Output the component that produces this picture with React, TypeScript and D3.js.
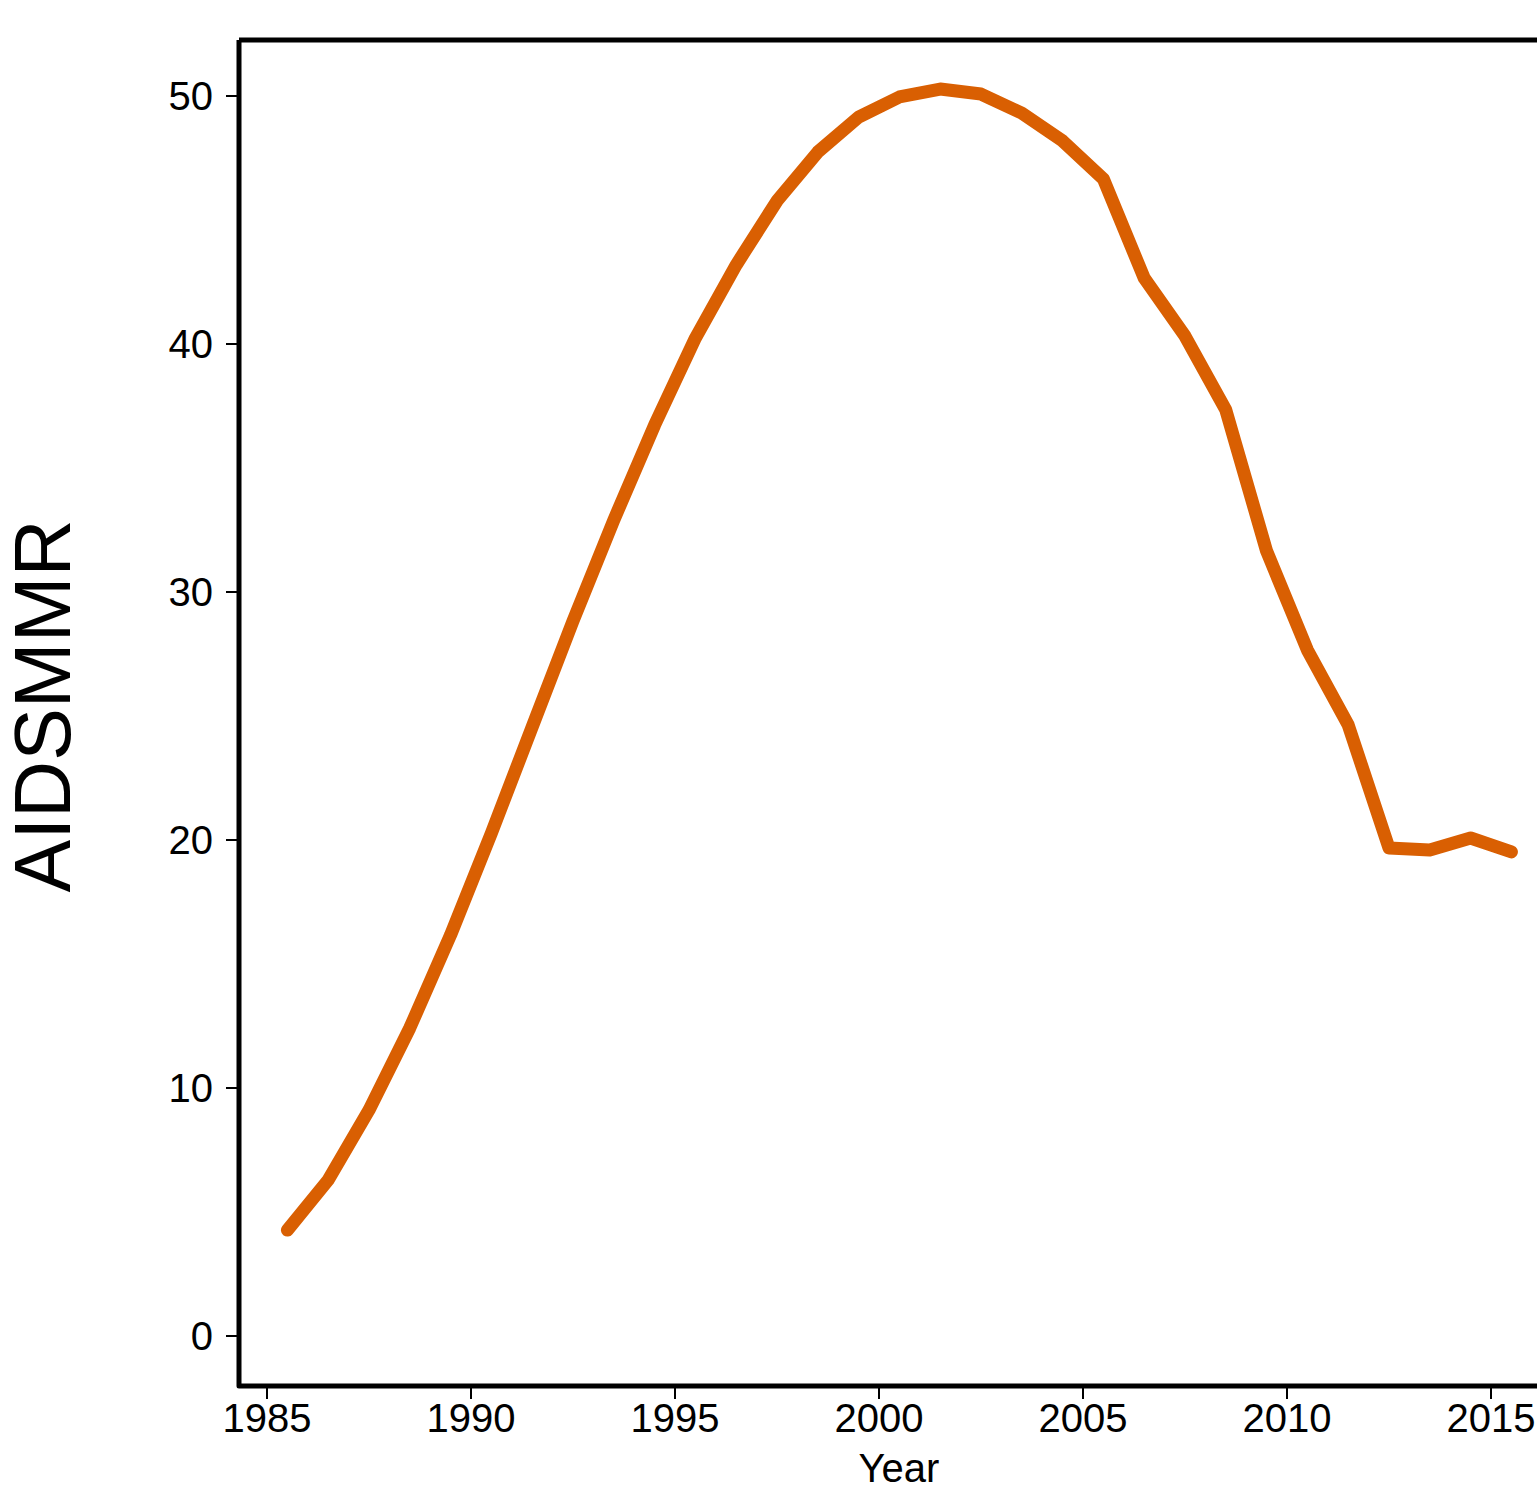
import React from "react";
import * as d3 from "d3";

const years = [1985.5,1986.5,1987.5,1988.5,1989.5,1990.5,1991.5,1992.5,1993.5,1994.5,1995.5,1996.5,1997.5,1998.5,1999.5,2000.5,2001.5,2002.5,2003.5,2004.5,2005.5,2006.5,2007.5,2008.5,2009.5,2010.5,2011.5,2012.5,2013.5,2014.5,2015.5];
const aidsmmr = [4.27,6.29,9.11,12.42,16.17,20.28,24.56,28.83,32.9,36.73,40.24,43.19,45.77,47.74,49.15,49.96,50.28,50.08,49.31,48.19,46.65,42.66,40.32,37.34,31.65,27.66,24.64,19.68,19.6,20.08,19.52];
const xTicks = [1985,1990,1995,2000,2005,2010,2015];
const yTicks = [0,10,20,30,40,50];

export default function App() {
  const W = 1537, H = 1489;
  const x = d3.scaleLinear().domain([1985, 2015]).range([267, 1491]);
  const y = d3.scaleLinear().domain([0, 50]).range([1336, 96]);
  const left = 239, top = 40, bottom = 1386, right = 1560;
  const line = d3.line<number>().x((_, i) => x(years[i])).y((d) => y(d));
  const font = "Liberation Sans, Arial, sans-serif";
  return (
    <svg width={W} height={H} style={{ position: "absolute", left: 0, top: 0, background: "#fff" }}>
      <rect x={0} y={0} width={W} height={H} fill="#fff" />
      <path d={line(aidsmmr) || ""} fill="none" stroke="#D95F02" strokeWidth={13} strokeLinecap="round" strokeLinejoin="round" />
      <path d={`M${left},${top}H${right}M${left},${top}V${bottom}H${right}`} fill="none" stroke="#000" strokeWidth={5} strokeLinejoin="round" />
      {yTicks.map((t) => (
        <g key={"y" + t}>
          <line x1={226} x2={left} y1={y(t)} y2={y(t)} stroke="#000" strokeWidth={2} />
          <text x={213} y={y(t)} dy="0.36em" textAnchor="end" fontFamily={font} fontSize={40} fill="#000">{t}</text>
        </g>
      ))}
      {xTicks.map((t) => (
        <g key={"x" + t}>
          <line x1={x(t)} x2={x(t)} y1={bottom} y2={1399} stroke="#000" strokeWidth={2} />
          <text x={x(t)} y={1432} textAnchor="middle" fontFamily={font} fontSize={40} fill="#000">{t}</text>
        </g>
      ))}
      <text x={899} y={1482} textAnchor="middle" fontFamily={font} fontSize={40} fill="#000">Year</text>
      <text transform={`translate(70,706) rotate(-90)`} textAnchor="middle" fontFamily={font} fontSize={79} fill="#000">AIDSMMR</text>
    </svg>
  );
}
